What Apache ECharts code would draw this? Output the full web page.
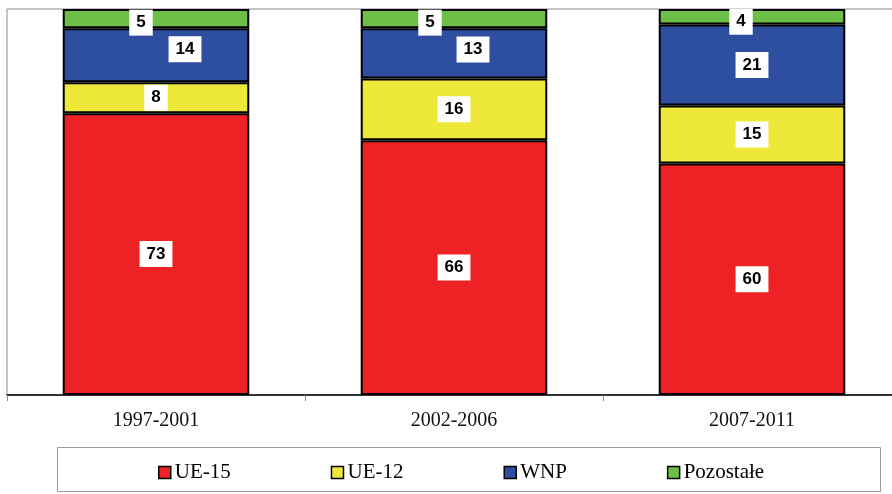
<!DOCTYPE html>
<html>
<head>
<meta charset="utf-8">
<script src="https://cdn.jsdelivr.net/npm/echarts@6/dist/echarts.min.js"></script>
<style>
  html, body { margin: 0; padding: 0; background: #fff; }
  #chart { width: 892px; height: 494px; }
</style>
</head>
<body>
<div id="chart"></div>
<script>
// okresy
const categories = ['1997-2001', '2002-2006', '2007-2011'];
const seriesNames = ['UE-15', 'UE-12', 'WNP', 'Pozostałe'];
const ue15 = [73, 66, 60];
const ue12 = [8, 16, 15];
const wnp = [14, 13, 21];
const pozostale = [5, 5, 4];

const colors = ['#EE2224', '#EEE83A', '#2E4FA0', '#6DBF47'];
const values = [ue15, ue12, wnp, pozostale];

// przesunięcia etykiet (jak w oryginale), klucz: seria-kategoria
const labelOffsets = {
    '2-0': [29, -6],
    '2-1': [19, -4],
    '3-0': [-15, 4],
    '3-1': [-24, 4],
    '3-2': [-11, 5]
};

const chart = echarts.init(document.getElementById('chart'), null, { renderer: 'canvas' });

const series = values.map((vals, i) => {
    return {
        name: seriesNames[i],
        type: 'bar',
        stack: 'total',
        barWidth: '62.6%',
        itemStyle: { color: colors[i], borderColor: '#000', borderWidth: 2 },
        label: {
            show: true,
            position: 'inside',
            color: '#000',
            fontFamily: 'Liberation Sans',
            fontWeight: 'bold',
            fontSize: 17,
            backgroundColor: '#fff',
            padding: [5, 7, 4, 7]
        },
        data: vals.map((v, j) => {
            const off = labelOffsets[i + '-' + j];
            return off ? { value: v, label: { offset: off } } : v;
        }),
        z: 2
    };
});

chart.setOption({
    animation: false,
    backgroundColor: '#fff',
    grid: {
        left: 7, top: 9, width: 894, bottom: 99,
        outerBoundsMode: 'none',
        show: true, borderColor: '#8a8a8a', borderWidth: 1
    },
    xAxis: {
        type: 'category',
        data: categories,
        axisLine: { lineStyle: { color: '#000', width: 1.5 } },
        axisTick: { show: true, length: 6, lineStyle: { color: '#888' } },
        axisLabel: {
            color: '#111',
            fontFamily: 'Liberation Serif',
            fontSize: 20,
            margin: 16
        }
    },
    yAxis: {
        type: 'value',
        min: 0,
        max: 100,
        show: false,
        splitLine: { show: false }
    },
    legend: {
        data: seriesNames,
        left: 158,
        top: 462,
        padding: 0,
        itemGap: 100,
        itemWidth: 12,
        itemHeight: 12,
        icon: 'rect',
        itemStyle: { borderColor: '#000', borderWidth: 1.5 },
        textStyle: { color: '#000', fontFamily: 'Liberation Serif', fontSize: 21, padding: [0, 0, 0, -1] }
    },
    graphic: [{
        type: 'rect',
        shape: { x: 57.5, y: 447.5, width: 823, height: 44 },
        style: { fill: 'none', stroke: '#999', lineWidth: 1 },
        silent: true
    }],
    series: series
});
</script>
</body>
</html>
